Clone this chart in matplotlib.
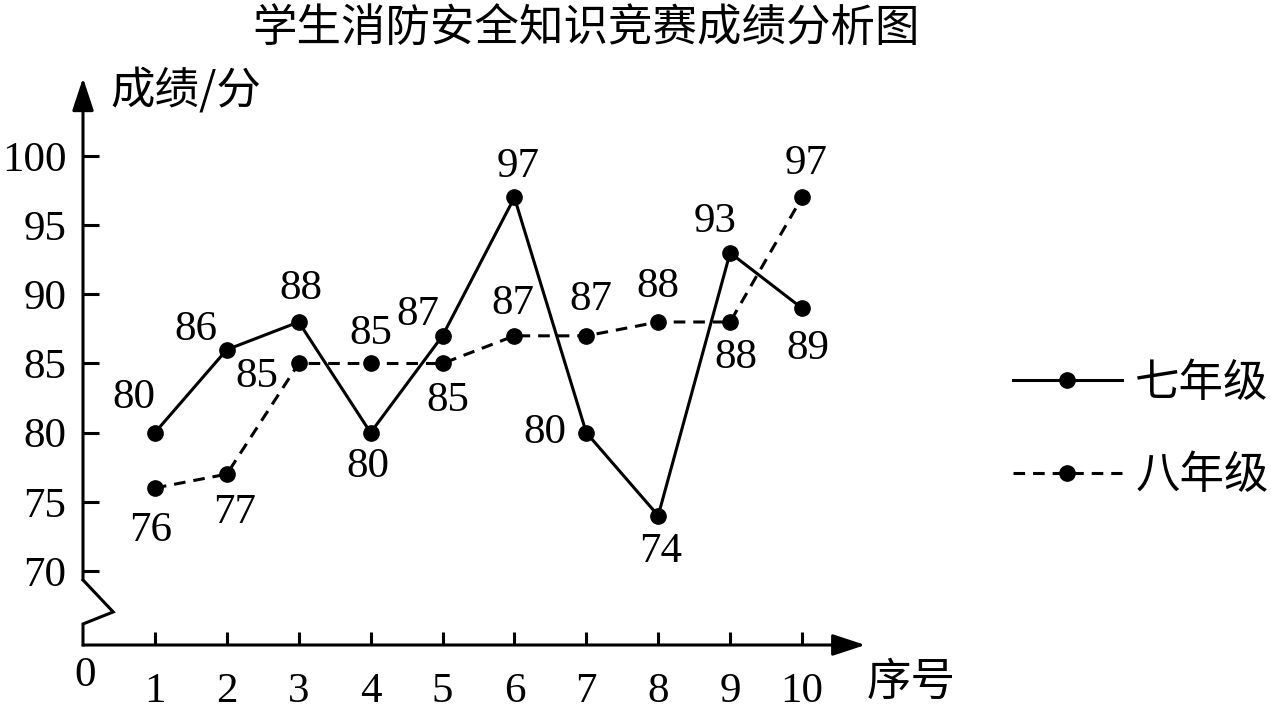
import matplotlib
matplotlib.use("Agg")
import matplotlib.pyplot as plt

# ---- data ----
title = "学生消防安全知识竞赛成绩分析图"
seq = [1, 2, 3, 4, 5, 6, 7, 8, 9, 10]
grade7 = [80, 86, 88, 80, 87, 97, 80, 74, 93, 89]
grade8 = [76, 77, 85, 85, 85, 87, 87, 88, 88, 97]
series_names = ["七年级", "八年级"]
yticks = [70, 75, 80, 85, 90, 95, 100]
ylabel = "成绩/分"
xlabel = "序号"

# label offsets (pixels, dx right, dy up)
off7 = [(-21, 35), (-31, 20), (2, 33), (-3, -34), (-25, 21),
        (4, 31), (-41, 0), (2, -36), (-15, 31), (6, -41)]
off8 = [(-4, -43), (8, -39), (-42, -13), (0, 30), (5, -37),
        (-2, 32), (5, 36), (0, 35), (6, -36), (4, 34)]

W, H = 1271, 710
fig = plt.figure(figsize=(W / 100, H / 100), dpi=100)

NUM = ["Liberation Serif", "Noto Sans CJK SC"]
CJK = ["Noto Sans CJK SC", "Liberation Serif"]
FS = 31
FSC = 32

def fx(px):
    return px / W

def fy(py):
    return 1 - py / H

YMIN, YMAX = 64.65, 106.0
XMIN, XMAX = 0.0, 11.0
ax = fig.add_axes([fx(83), fy(645), 11 * 71.9 / W, (645 - 73) / H])
ax.set_xlim(XMIN, XMAX)
ax.set_ylim(YMIN, YMAX)
for s in ax.spines.values():
    s.set_visible(False)

lw = 2.2
col = "black"

# axes with break
ax.plot([0, 0.42, 0, 0], [69.35, 67.04, 66.17, YMIN], color=col, lw=lw,
        solid_joinstyle="miter", clip_on=False)
ax.annotate("", xy=(0, 105.64), xytext=(0, 69.35),
            arrowprops=dict(arrowstyle="-|>,head_length=1.0,head_width=0.33",
                            mutation_scale=20, color=col, lw=lw,
                            shrinkA=0, shrinkB=0))
ax.annotate("", xy=(10.88, YMIN), xytext=(0, YMIN),
            arrowprops=dict(arrowstyle="-|>,head_length=1.0,head_width=0.33",
                            mutation_scale=20, color=col, lw=lw,
                            shrinkA=0, shrinkB=0))

ax.set_yticks(yticks)
ax.set_yticklabels([str(v) for v in yticks])
ax.set_xticks(seq)
ax.set_xticklabels([str(v) for v in seq])
ax.tick_params(axis="y", direction="in", length=11.5, width=lw, pad=12,
               labelsize=FS)
ax.tick_params(axis="x", direction="in", length=9.4, width=lw, pad=20,
               labelsize=FS)
for t in ax.get_xticklabels() + ax.get_yticklabels():
    t.set_fontfamily(NUM)

l7, = ax.plot(seq, grade7, color=col, lw=lw, marker="o", ms=11,
              label=series_names[0], clip_on=False)
l8, = ax.plot(seq, grade8, color=col, lw=lw, marker="o", ms=11,
              linestyle=(0, (3.8, 2.6)), label=series_names[1], clip_on=False)

for x, y, (dx, dy) in zip(seq, grade7, off7):
    ax.annotate(str(y), xy=(x, y), xytext=(dx, dy), textcoords="offset pixels",
                ha="center", va="center", fontsize=FS, family=NUM)
for x, y, (dx, dy) in zip(seq, grade8, off8):
    ax.annotate(str(y), xy=(x, y), xytext=(dx, dy), textcoords="offset pixels",
                ha="center", va="center", fontsize=FS, family=NUM)

# texts
fig.text(fx(586), fy(28), title, ha="center", va="center", fontsize=FSC,
         family=CJK)
fig.text(fx(110), fy(91), ylabel, ha="left", va="center", fontsize=FSC,
         family=CJK)
fig.text(fx(867), fy(682), xlabel, ha="left", va="center", fontsize=FSC,
         family=CJK)
fig.text(fx(85), fy(676), "0", ha="center", va="center", fontsize=FS,
         family=NUM)

leg = fig.legend(handles=[l7, l8], labels=series_names, loc="center left",
                 bbox_to_anchor=(fx(1013), fy(429)), frameon=False,
                 prop={"family": CJK, "size": FSC}, handlelength=2.45,
                 handletextpad=0.3, borderpad=0, borderaxespad=0,
                 labelspacing=1.05)

fig.savefig("out.png", dpi=100)
